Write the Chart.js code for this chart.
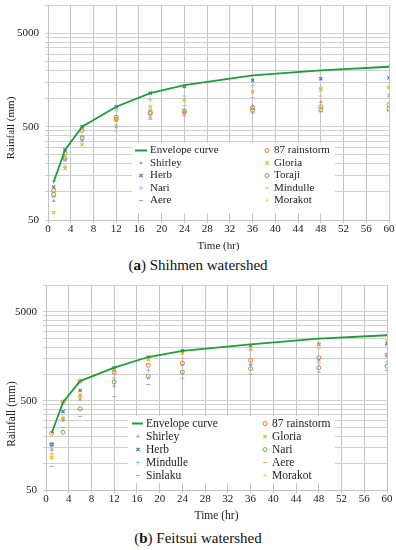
<!DOCTYPE html>
<html><head><meta charset="utf-8">
<script src="https://cdn.jsdelivr.net/npm/chart.js@4/dist/chart.umd.min.js"></script>
<style>
html,body{margin:0;padding:0;background:#fff;width:396px;height:550px;overflow:hidden;}
.wrap{position:absolute;left:0;width:396px;}
canvas{display:block;}
.cap{position:absolute;left:0;width:396px;text-align:center;font-family:"Liberation Serif","Times New Roman",serif;font-size:15px;color:#111;line-height:18px;}
</style></head><body>
<div class="wrap" style="top:0;height:256px"><canvas id="ca" width="396" height="256"></canvas></div>
<div class="cap" style="top:256px">(<b>a</b>) Shihmen watershed</div>
<div class="wrap" style="top:269px;height:257px"><canvas id="cb" width="396" height="257"></canvas></div>
<div class="cap" style="top:529px">(<b>b</b>) Feitsui watershed</div>
<script>
// ---------- data ----------
const hours = [1, 3, 6, 12, 18, 24, 36, 48, 60];
const xTickStep = 4;
const yLabelValues = [50, 500, 5000];
const yGridValues = [50, 100, 150, 200, 250, 300, 350, 400, 450, 500,
  1000, 1500, 2000, 2500, 3000, 3500, 4000, 4500, 5000, 10000];

// (a) Shihmen watershed
const shEnvelope = [128, 282, 500, 817, 1143, 1390, 1773, 2005, 2190];
const sh87       = [104, 260, 455, 600, 690, 710, 800, 820, 860];
const shShirley  = [80, 218, 350, 495, 627, 700, 840, 920, 1060];
const shGloria   = [60, 178, 320, 590, 817, 970, 1180, 1240, 1310];
const shHerb     = [113, 282, 500, 817, 1143, 1350, 1570, 1630, 1670];
const shToraji   = [94, 227, 380, 630, 710, 740, 750, 760, 775];
const shNari     = [128, 185, 390, 760, 970, 1064, 1370, 1300, 1330];
const shMindulle = [90, 200, 400, 450, 760, 840, 1025, 1064, 1100];
const shAere     = [88, 227, 360, 520, 600, 650, 700, 720, 740];
const shMorakot  = [100, 246, 470, 740, 1000, 1390, 1773, 2005, 2190];

// (b) Feitsui watershed
const feEnvelope = [217, 485, 835, 1180, 1555, 1820, 2160, 2500, 2730];
const fe87       = [217, 485, 835, 1050, 1255, 1330, 1425, 1530, 1630];
const feShirley  = [140, 300, 515, 730, 900, 1010, 1280, 1430, 1630];
const feGloria   = [116, 315, 577, 1100, 1455, 1720, 1950, 2150, 2355];
const feHerb     = [162, 380, 655, 1180, 1555, 1820, 2090, 2160, 2200];
const feNari     = [162, 222, 408, 815, 945, 1050, 1150, 1180, 1225];
const feMindulle = [145, 310, 540, 900, 1100, 1250, 1280, 1340, 1365];
const feAere     = [129, 320, 560, 1000, 1300, 1500, 1850, 1950, 2000];
const feSinlaku  = [92, 250, 335, 560, 765, 900, 1000, 1050, 1100];
const feMorakot  = [125, 330, 590, 1100, 1500, 1800, 2160, 2500, 2730];

const xTitle = 'Time (hr)';
const yTitle = 'Rainfall (mm)';

// ---------- styles ----------
const FONT = '"Liberation Serif","Times New Roman",serif';
const TXT = '#222';
const ST = {
  'Envelope curve': {line: true, color: '#1E9E3A'},
  '87 rainstorm': {ps: 'circle', bg: 'rgba(0,0,0,0)', bc: '#ED7D31', r: 2, bw: 1},
  'Shirley': {ps: 'triangle', bg: '#A5A5A5', bc: '#A5A5A5', r: 2.2, bw: 0},
  'Gloria': {ps: 'crossRot', bg: '#FFC000', bc: '#F5B000', r: 2.3, bw: 1.1},
  'Herb': {ps: 'crossRot', bg: '#4472C4', bc: '#4472C4', r: 2.3, bw: 1.2},
  'Toraji': {ps: 'circle', bg: 'rgba(0,0,0,0)', bc: '#70AD47', r: 2, bw: 1},
  'Nari_a': {ps: 'cross', bg: '#9DC3E6', bc: '#9DC3E6', r: 2.2, bw: 1},
  'Nari_b': {ps: 'circle', bg: 'rgba(0,0,0,0)', bc: '#70AD47', r: 2, bw: 1},
  'Mindulle_a': {ps: 'line', bg: '#F4A582', bc: '#F4A582', r: 2, bw: 1},
  'Mindulle_b': {ps: 'cross', bg: '#9DC3E6', bc: '#9DC3E6', r: 2.2, bw: 1},
  'Aere_a': {ps: 'line', bg: '#A5A5A5', bc: '#A5A5A5', r: 2, bw: 1},
  'Aere_b': {ps: 'line', bg: '#F4A582', bc: '#F4A582', r: 2, bw: 1},
  'Sinlaku': {ps: 'line', bg: '#A5A5A5', bc: '#A5A5A5', r: 2, bw: 1},
  'Morakot': {ps: 'triangle', bg: '#FFD966', bc: '#FFD966', r: 2.2, bw: 0}
};

function pts(vals) { return hours.map((h, i) => ({x: h, y: vals[i]})); }
function ds(label, vals, key) {
  const s = ST[key || label];
  if (s.line) {
    return {label, data: pts(vals), showLine: true, borderColor: s.color, backgroundColor: s.color,
      borderWidth: 1.8, pointRadius: 0, tension: 0, isLine: true};
  }
  return {label, data: pts(vals), showLine: false, pointStyle: s.ps, backgroundColor: s.bg,
    borderColor: s.bc, pointRadius: s.r, pointBorderWidth: s.bw, borderWidth: s.bw};
}

function overlay(lg) {
  return {
    id: 'overlay',
    afterDraw(chart) {
      const ctx = chart.ctx;
      ctx.save();
      // y title
      ctx.save();
      ctx.translate(lg.yTitleX, lg.yTitleY);
      ctx.rotate(-Math.PI / 2);
      ctx.font = lg.yTitleSize + 'px ' + FONT;
      ctx.fillStyle = TXT;
      ctx.textAlign = 'center';
      ctx.textBaseline = 'middle';
      ctx.fillText(yTitle, 0, 0);
      ctx.restore();
      // legend box
      ctx.fillStyle = '#fff';
      ctx.fillRect(lg.box[0], lg.box[1], lg.box[2], lg.box[3]);
      ctx.font = lg.size + 'px ' + FONT;
      ctx.textBaseline = 'middle';
      ctx.textAlign = 'left';
      chart.data.datasets.forEach((d, k) => {
        const col = k % 2, row = Math.floor(k / 2);
        const y = lg.rows[row];
        if (d.isLine) {
          ctx.strokeStyle = d.borderColor;
          ctx.lineWidth = 2;
          ctx.beginPath();
          ctx.moveTo(lg.lineX[0], y);
          ctx.lineTo(lg.lineX[1], y);
          ctx.stroke();
        } else {
          ctx.fillStyle = d.backgroundColor;
          ctx.strokeStyle = d.borderColor;
          ctx.lineWidth = d.pointBorderWidth;
          if (Chart.helpers && Chart.helpers.drawPoint) {
            Chart.helpers.drawPoint(ctx, {pointStyle: d.pointStyle, rotation: 0,
              radius: d.pointRadius, borderWidth: d.pointBorderWidth}, lg.markX[col], y);
          } else {
            ctx.beginPath(); ctx.arc(lg.markX[col], y, 2, 0, Math.PI * 2); ctx.fill();
          }
        }
        ctx.fillStyle = TXT;
        ctx.fillText(d.label, lg.textX[col], y);
      });
      ctx.restore();
    }
  };
}

function makeChart(id, datasets, geo, lg) {
  new Chart(document.getElementById(id), {
    type: 'scatter',
    data: {datasets},
    options: {
      responsive: false, animation: false, events: [],
      layout: {padding: {top: geo.top, right: geo.right, left: 0, bottom: 0}},
      plugins: {legend: {display: false}, tooltip: {enabled: false}},
      scales: {
        x: {
          type: 'linear', min: 0, max: 60,
          afterFit: s => { s.height = geo.xh; s.paddingLeft = 0; s.paddingRight = 0; },
          ticks: {stepSize: xTickStep, autoSkip: false, maxRotation: 0, padding: 0,
            color: TXT, font: {family: FONT, size: 11}},
          grid: {color: '#C4C4C4', lineWidth: 1, tickLength: 3, drawTicks: true},
          border: {color: '#C4C4C4'},
          title: {display: true, text: xTitle, color: TXT, padding: {top: 0, bottom: 3},
            font: {family: FONT, size: geo.xtSize}}
        },
        y: {
          type: 'logarithmic', min: 50, max: 10000,
          afterBuildTicks: s => { s.ticks = yGridValues.map(v => ({value: v})); },
          afterFit: s => { s.width = geo.yw; s.paddingTop = 0; s.paddingBottom = 0; },
          ticks: {autoSkip: false, padding: 6, color: TXT, font: {family: FONT, size: 11},
            callback: v => yLabelValues.includes(v) ? String(v) : ''},
          grid: {color: '#D0D0D0', lineWidth: 1, tickLength: 3, drawTicks: true},
          border: {color: '#C4C4C4'}
        }
      }
    },
    plugins: [overlay(lg)]
  });
}

makeChart('ca', [
  ds('Envelope curve', shEnvelope),
  ds('87 rainstorm', sh87),
  ds('Shirley', shShirley),
  ds('Gloria', shGloria),
  ds('Herb', shHerb),
  ds('Toraji', shToraji),
  ds('Nari', shNari, 'Nari_a'),
  ds('Mindulle', shMindulle, 'Mindulle_a'),
  ds('Aere', shAere, 'Aere_a'),
  ds('Morakot', shMorakot)
], {top: 3, right: 7, xh: 36, yw: 48, xtSize: 11},
{box: [132, 143, 203, 70], rows: [150.5, 163, 175.5, 188, 200.5], lineX: [135, 147],
 markX: [141, 267], textX: [150, 274], size: 11, yTitleX: 11, yTitleY: 128, yTitleSize: 11});

makeChart('cb', [
  ds('Envelope curve', feEnvelope),
  ds('87 rainstorm', fe87),
  ds('Shirley', feShirley),
  ds('Gloria', feGloria),
  ds('Herb', feHerb),
  ds('Nari', feNari, 'Nari_b'),
  ds('Mindulle', feMindulle, 'Mindulle_b'),
  ds('Aere', feAere, 'Aere_b'),
  ds('Sinlaku', feSinlaku),
  ds('Morakot', feMorakot)
], {top: 16, right: 9, xh: 36, yw: 46, xtSize: 11.5},
{box: [128, 147, 207, 67], rows: [154.5, 167.5, 180.5, 193.5, 206.5], lineX: [132, 143],
 markX: [138, 265], textX: [146, 272], size: 11.5, yTitleX: 12, yTitleY: 145, yTitleSize: 11.5});
</script>
</body></html>
